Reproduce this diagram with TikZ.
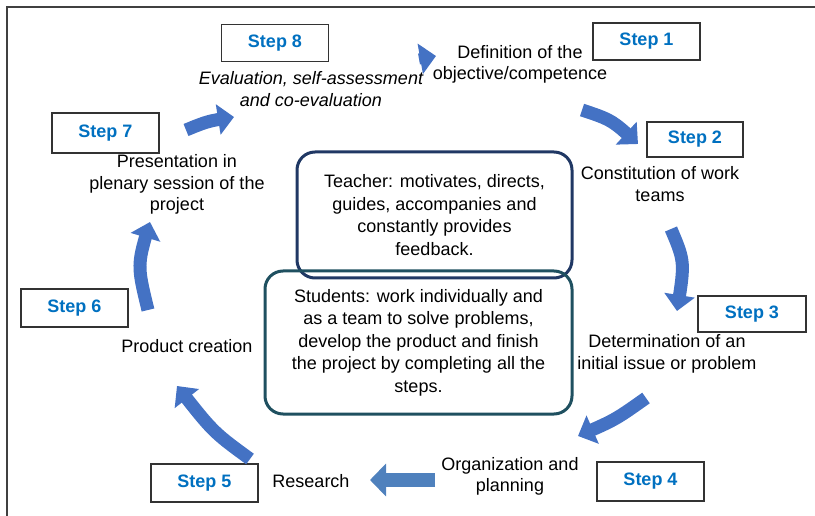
\documentclass[tikz,border=0pt]{standalone}
\usepackage{fontspec}
\setmainfont{Liberation Sans}
\usepackage{tikz}
\usetikzlibrary{arrows.meta, bending}
\definecolor{stepblue}{HTML}{0070C0}
\definecolor{arrowblue}{HTML}{4472C4}
\definecolor{flatblue}{HTML}{4F81BD}
\definecolor{teacherline}{HTML}{203864}
\definecolor{studentline}{HTML}{1F5060}
\tikzset{stepbox/.style={rectangle, draw=black!80, line width=1.5pt,
    minimum width=107pt, minimum height=37pt, text=stepblue,
    font=\fontsize{18}{21.5}\selectfont\bfseries}}
\tikzset{desc/.style={align=center, font=\fontsize{18}{21.5}\selectfont}}
\tikzset{rolebox/.style={rectangle, rounded corners=18pt, line width=3pt,
    align=center, font=\fontsize{18}{22.5}\selectfont}}
\tikzset{flow/.style={draw=arrowblue, line width=13pt,
    -{Triangle[length=16pt, width=30pt, flex]}}}

\begin{document}
\begin{tikzpicture}[x=1pt, y=-1pt]
    \useasboundingbox (0,0) rectangle (815,516);
    \draw [black!75, line width=1.5pt] (7,516) -- (7,7) -- (815,7);

    % steps
    \node [stepbox] (S1) at (646.5, 41.5) {Step 1};
    \node [stepbox, minimum width=96pt, minimum height=35pt] (S2) at (695, 139.5) {Step 2};
    \node [stepbox, minimum width=108pt, minimum height=36pt] (S3) at (752, 314) {Step 3};
    \node [stepbox, minimum height=39pt] (S4) at (650.5, 481.5) {Step 4};
    \node [stepbox, minimum height=38pt] (S5) at (204.5, 483) {Step 5};
    \node [stepbox, minimum height=38pt] (S6) at (74.5, 308) {Step 6};
    \node [stepbox, minimum height=40pt] (S7) at (105.5, 133) {Step 7};
    \node [stepbox] (S8) at (275, 43) {Step 8};

    \node [desc] (d1) at (520, 64.5) {Definition of the\\objective/competence};
    \node [desc] (d2) at (660, 184) {Constitution of work\\teams};
    \node [desc] (d3) at (667, 354) {Determination of an\\initial issue or problem};
    \node [desc] (d4) at (510, 476.5) {Organization and\\planning};
    \node [desc] (d5) at (311, 481) {Research};
    \node [desc] (d6) at (187, 346) {Product creation};
    \node [desc] (d7) at (177, 184.5) {Presentation in\\plenary session of the\\project};
    \node [desc, font=\fontsize{18}{21.5}\selectfont\itshape] (d8) at (311, 89)
        {Evaluation, self-assessment\\and co-evaluation};

    % roles
    \node [rolebox, draw=teacherline, minimum width=275pt, minimum height=126pt]
        (teacher) at (434.5, 215)
        {Teacher: motivates, directs,\\guides, accompanies and\\constantly provides\\feedback.};
    \node [rolebox, draw=studentline, minimum width=307pt, minimum height=143pt]
        (students) at (418.5, 342.5)
        {Students: work individually and\\as a team to solve problems,\\develop the product and finish\\the project by completing all the\\steps.};

    % cycle arrows
    \coordinate (t81) at (419, 59);
    \coordinate (h81) at (436, 56);
    \coordinate (t12) at (582, 110);
    \coordinate (h12) at (638, 144);
    \coordinate (t23) at (671, 229);
    \coordinate (h23) at (677, 311);
    \coordinate (t34) at (646, 398);
    \coordinate (h34) at (578, 436);
    \coordinate (t45) at (435, 480);
    \coordinate (h45) at (370, 480);
    \coordinate (t56) at (250, 459);
    \coordinate (h56) at (177, 386);
    \coordinate (t67) at (148, 310);
    \coordinate (h67) at (150, 222);
    \coordinate (t78) at (186, 130);
    \coordinate (h78) at (234, 117);

    \draw [flow, line width=11pt] (t81) -- (h81);
    \draw [flow] (t12) .. controls (612, 120) .. (h12);
    \draw [flow] (t23) .. controls (685, 262) .. (h23);
    \draw [flow] (t34) .. controls (615, 420) .. (h34);
    \draw [flow, draw=flatblue, line width=14pt, -{Triangle[length=16pt, width=32pt]}] (t45) -- (h45);
    \draw [flow] (t56) .. controls (213, 432) .. (h56);
    \draw [flow] (t67) .. controls (137, 265) .. (h67);
    \draw [flow] (t78) .. controls (208, 121) .. (h78);
\end{tikzpicture}
\end{document}
